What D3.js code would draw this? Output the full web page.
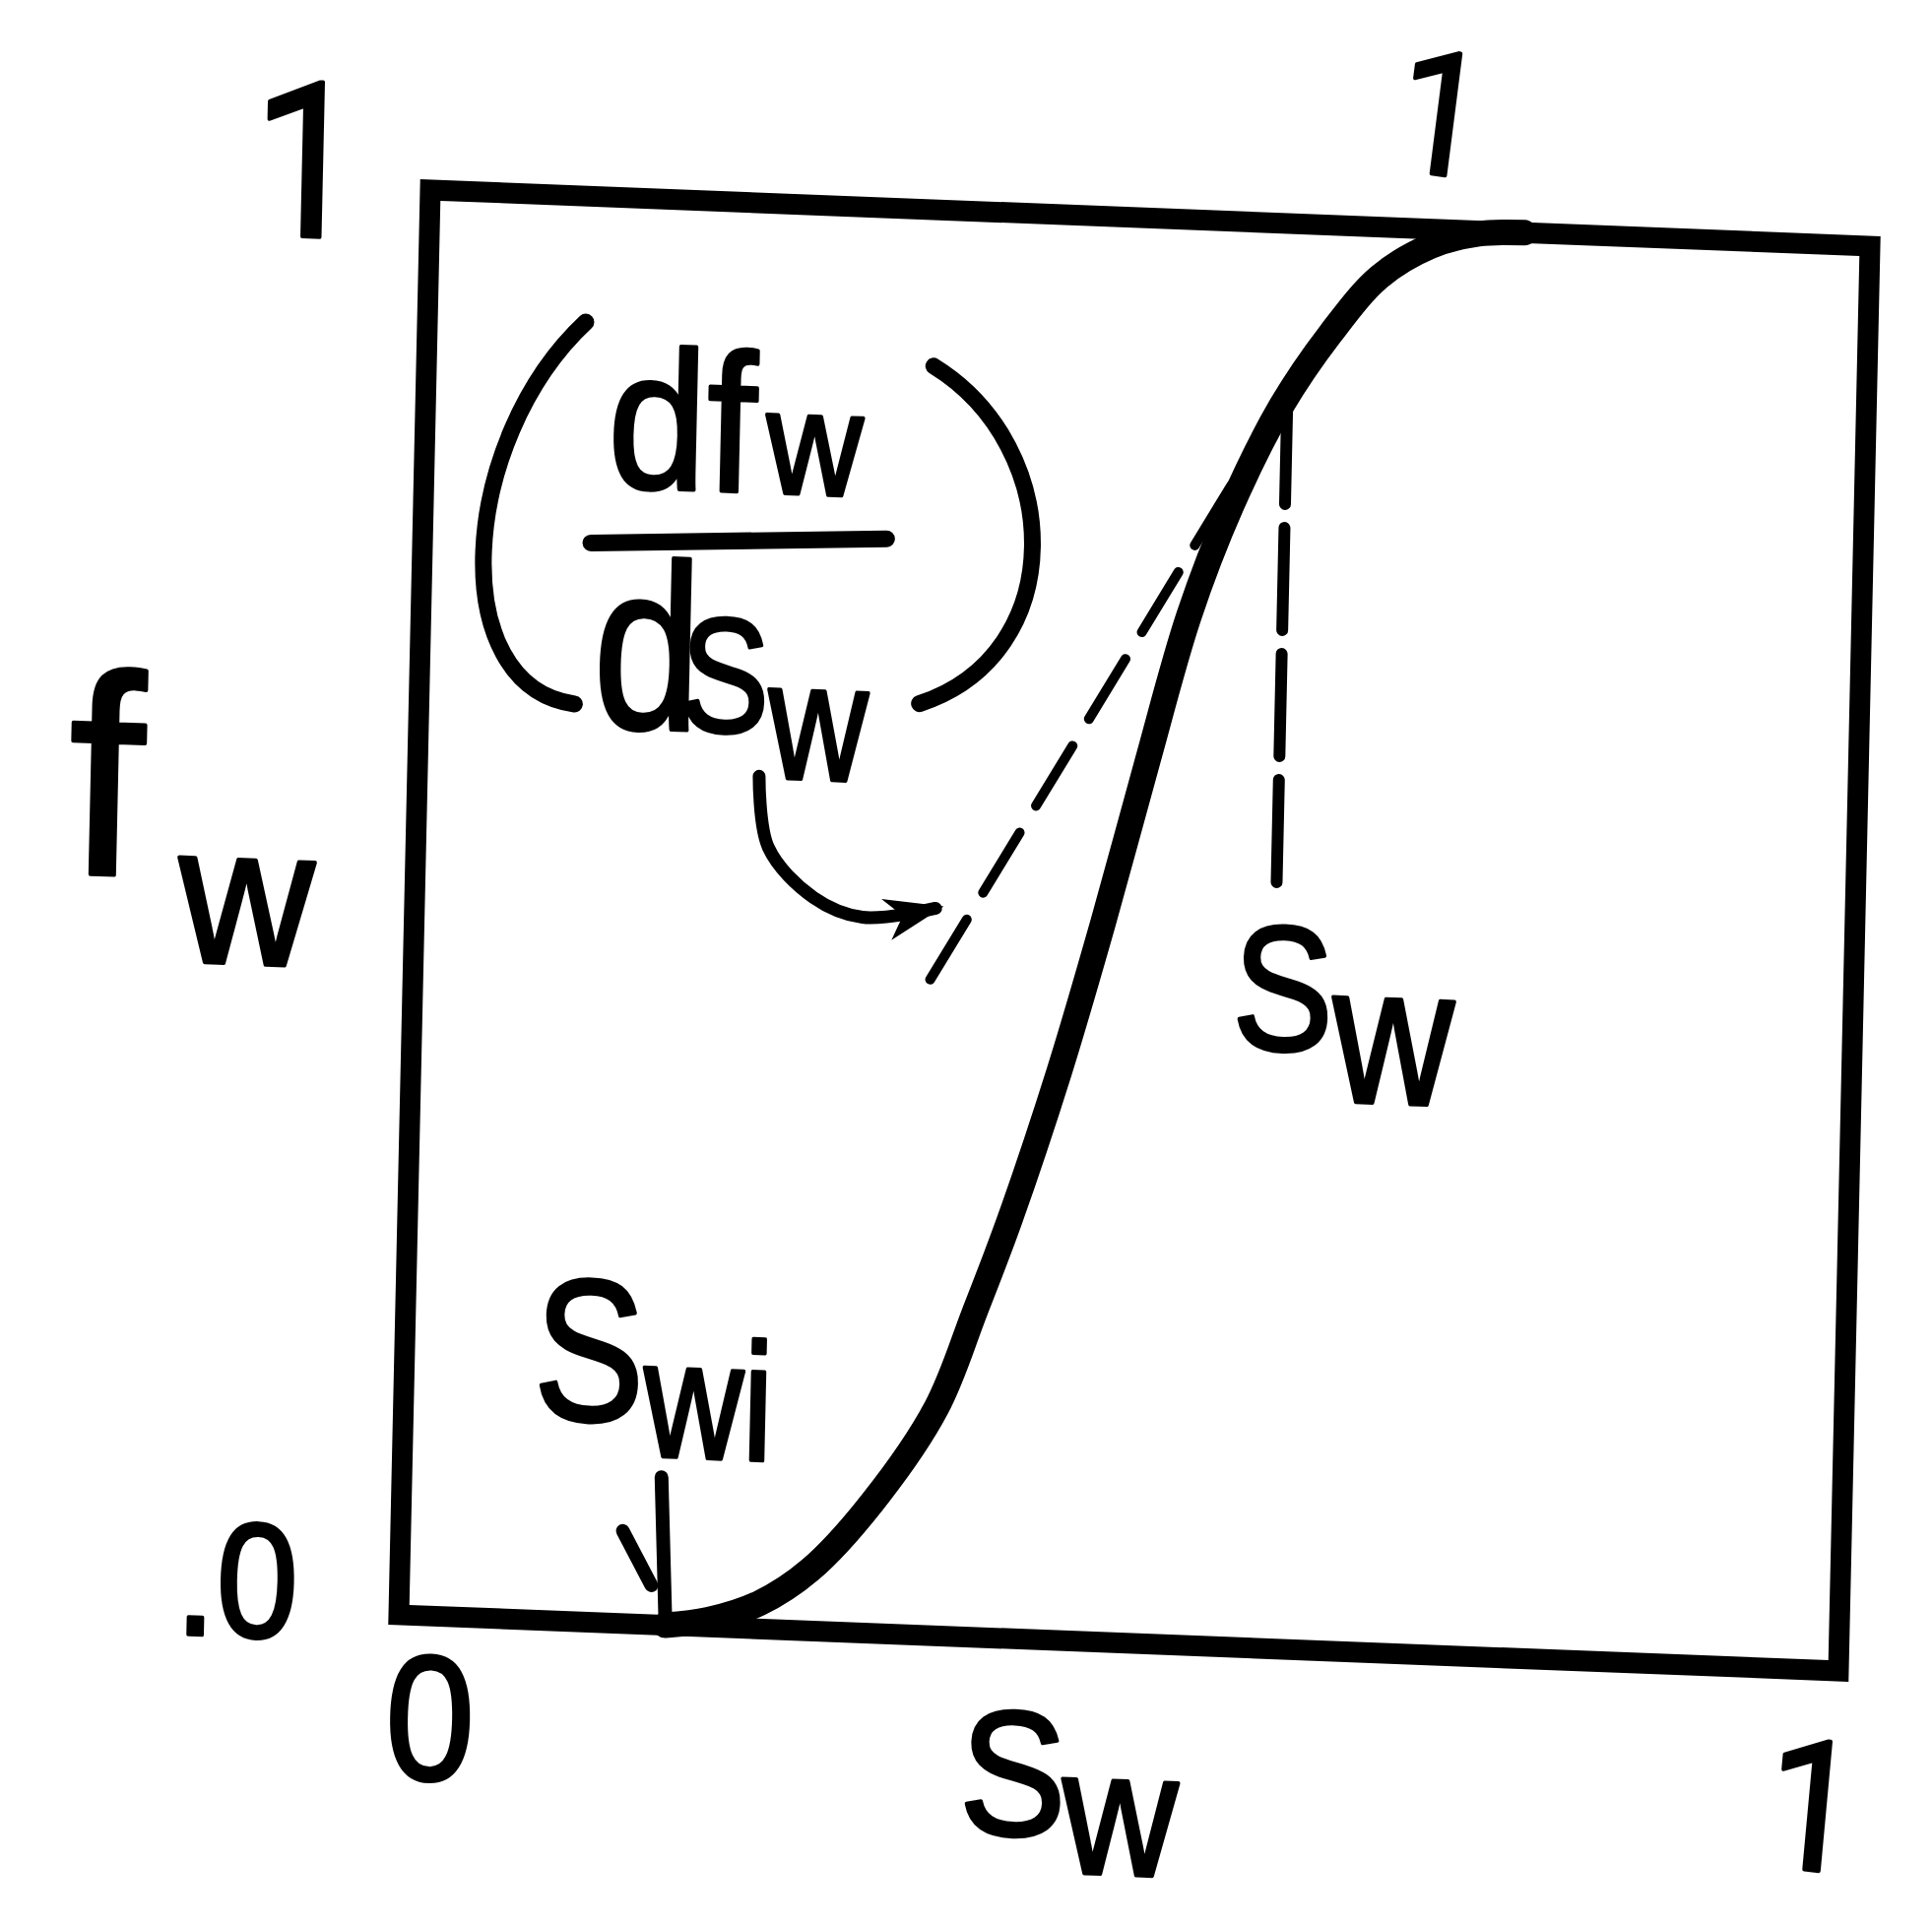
<!DOCTYPE html>
<html>
<head>
<meta charset="utf-8">
<title>Fractional flow curve</title>
<script src="https://cdn.jsdelivr.net/npm/d3@7/dist/d3.min.js"></script>
<style>
  html, body { margin: 0; padding: 0; background: #ffffff; }
  svg { display: block; }
  .hand { font-family: "Liberation Sans", Arial, sans-serif; fill: #000; stroke: #000; stroke-width: 4; stroke-linejoin: round; }
  .digit { font-family: Roboto, "Liberation Sans", sans-serif; }
</style>
</head>
<body>
<svg id="chart" width="1962" height="1956"></svg>
<script>
// Water saturation S_w and fractional flow f_w along the sketched curve
const swValues = [0.185, 0.215, 0.25, 0.285, 0.327, 0.37, 0.395, 0.418, 0.45, 0.478, 0.506, 0.533, 0.561, 0.594, 0.627, 0.66, 0.695, 0.728, 0.76];
const fwValues = [0, 0.005, 0.018, 0.043, 0.092, 0.16, 0.228, 0.294, 0.399, 0.504, 0.617, 0.722, 0.801, 0.872, 0.924, 0.965, 0.988, 0.998, 1.0];

// Initial water saturation, where the curve leaves f_w = 0
const swInitial = 0.185;

// Dashed tangent line (slope df_w/dS_w)
const tangentSw = [0.359, 0.598];
const tangentFw = [0.46, 0.881];

// Dashed drop line from the tangent point
const frontSw = 0.598;
const frontFw = [0.875, 0.535];

// Axis ticks
const xTickValues = [0, 1];
const xTickLabels = ["0", "1"];
const yTickValues = [0, 1];
const yTickLabels = [".0", "1"];

// "1" written above the frame where the curve reaches the top
const topMarkSw = 0.696;
const topMarkLabel = "1";

const W = 1462, H = 1447;
const x = d3.scaleLinear().domain([0, 1]).range([0, W]);
const y = d3.scaleLinear().domain([0, 1]).range([H, 0]);
const ink = "#000";

const svg = d3.select("#chart");
svg.append("rect").attr("width", 1962).attr("height", 1956).attr("fill", "#fff");

const defs = svg.append("defs");
defs.append("marker")
  .attr("id", "head")
  .attr("viewBox", "0 0 14 10")
  .attr("refX", 12).attr("refY", 5)
  .attr("markerWidth", 60).attr("markerHeight", 43)
  .attr("markerUnits", "userSpaceOnUse")
  .attr("orient", "auto")
  .append("path")
  .attr("d", "M0,0 L14,5 L0,10 L4,5 Z")
  .attr("fill", ink);

// Freehand frame: the bottom edge drops to the right and the sides lean right
const g = svg.append("g")
  .attr("transform", `matrix(1,${57 / W},${-32 / H},1,437,193)`);

// frame
g.append("path")
  .attr("d", d3.line()([[x(0), y(0)], [x(1), y(0)], [x(1), y(1)], [x(0), y(1)]]) + "Z")
  .attr("fill", "none")
  .attr("stroke", ink)
  .attr("stroke-width", 21)
  .attr("stroke-linejoin", "miter");

// fractional flow curve
const curvePts = swValues.map((s, i) => [s, fwValues[i]]);
g.append("path")
  .datum(curvePts)
  .attr("d", d3.line().x(d => x(d[0])).y(d => y(d[1])).curve(d3.curveCatmullRom.alpha(0.5)))
  .attr("fill", "none")
  .attr("stroke", ink)
  .attr("stroke-width", 26)
  .attr("stroke-linecap", "round")
  .attr("stroke-linejoin", "round");

// tangent line
g.append("line")
  .attr("x1", x(tangentSw[0])).attr("y1", y(tangentFw[0]))
  .attr("x2", x(tangentSw[1])).attr("y2", y(tangentFw[1]))
  .attr("stroke", ink)
  .attr("stroke-width", 10)
  .attr("stroke-dasharray", "72 32")
  .attr("stroke-linecap", "round");

// drop line at the tangent point
g.append("line")
  .attr("x1", x(frontSw)).attr("y1", y(frontFw[0]))
  .attr("x2", x(frontSw)).attr("y2", y(frontFw[1]))
  .attr("stroke", ink)
  .attr("stroke-width", 12)
  .attr("stroke-dasharray", "104 24")
  .attr("stroke-linecap", "round");

// text helper: parts are tspans, placed at (px, py) in frame coordinates
function addLabel(px, py, parts, opt = {}) {
  const t = g.append("text")
    .attr("class", opt.cls ? "hand " + opt.cls : "hand")
    .attr("font-size", parts[0].size)
    .attr("transform", `translate(${px},${py}) rotate(${opt.rotate || 0}) scale(${opt.sx || 1},1)`)
    .attr("text-anchor", opt.anchor || "start");
  parts.forEach(p => {
    t.append("tspan")
      .attr("font-size", p.size)
      .attr("dx", p.dx || 0)
      .attr("dy", p.dy || 0)
      .text(p.text);
  });
  return t;
}

// tick labels
const xTickLayout = [
  { dx: 34, dy: 166, size: 180, rotate: 0, anchor: "middle", cls: "" },
  { dx: -28, dy: 203, size: 185, rotate: 4, anchor: "middle", cls: "digit" }
];
xTickValues.forEach((v, i) => {
  const L = xTickLayout[i];
  addLabel(x(v) + L.dx, y(0) + L.dy, [{ text: xTickLabels[i], size: L.size }],
    { anchor: L.anchor, rotate: L.rotate, sx: 0.9, cls: L.cls });
});

const yTickLayout = [
  { dx: -103, dy: 28, size: 165, rotate: 0, anchor: "end", cls: "" },
  { dx: -126, dy: 52, size: 220, rotate: 0, anchor: "middle", cls: "digit" }
];
yTickValues.forEach((v, i) => {
  const L = yTickLayout[i];
  addLabel(x(0) + L.dx, y(v) + L.dy, [{ text: yTickLabels[i], size: L.size }],
    { anchor: L.anchor, rotate: L.rotate, sx: 0.9, cls: L.cls });
});

addLabel(x(topMarkSw), y(1) - 56, [{ text: topMarkLabel, size: 175 }],
  { anchor: "middle", rotate: 6, sx: 0.9, cls: "digit" });

// axis titles
addLabel(x(0.5) - 158, y(0) + 199,
  [{ text: "S", size: 180 }, { text: "w", size: 180, dx: -4, dy: 36 }], { sx: 0.9 });
addLabel(x(0) - 354, y(0.5) - 16,
  [{ text: "f", size: 290 }, { text: "w", size: 200, dx: 40, dy: 85 }], { sx: 0.95 });

// S_wi with its arrow down to the curve's start
addLabel(x(swInitial) - 139, y(0) - 205,
  [{ text: "S", size: 205 }, { text: "wi", size: 170, dy: 34 }], { sx: 0.82 });
const arrowStroke = sel => sel.attr("fill", "none").attr("stroke", ink)
  .attr("stroke-width", 14).attr("stroke-linecap", "round");
g.append("line")
  .attr("x1", x(swInitial) - 7).attr("y1", y(0) - 150)
  .attr("x2", x(swInitial)).attr("y2", y(0) - 6)
  .call(arrowStroke);
g.append("line")
  .attr("x1", x(swInitial) - 45).attr("y1", y(0) - 94)
  .attr("x2", x(swInitial) - 15).attr("y2", y(0) - 40)
  .call(arrowStroke);

// S_w under the drop line
addLabel(x(frontSw) - 42, y(frontFw[1]) + 166,
  [{ text: "S", size: 180 }, { text: "w", size: 200, dy: 50 }], { sx: 0.85 });

// slope note: (df_w / dS_w) in parentheses, with an arrow to the tangent
const nx = x(0.229), ny = y(0.77);
addLabel(nx - 149, ny - 39,
  [{ text: "df", size: 200 }, { text: "w", size: 150, dx: 12 }], { sx: 0.9 });
g.append("line")
  .attr("x1", nx - 164).attr("y1", ny + 19)
  .attr("x2", nx + 136).attr("y2", ny + 3)
  .attr("stroke", ink).attr("stroke-width", 17).attr("stroke-linecap", "round");
addLabel(nx - 159, ny + 205,
  [{ text: "d", size: 240 }, { text: "S", size: 165, dx: -25 }, { text: "w", size: 170, dy: 45 }], { sx: 0.82 });

const paren = d3.path();
paren.moveTo(nx - 174, ny - 205);
paren.bezierCurveTo(nx - 300, ny - 80, nx - 310, ny + 170, nx - 177, ny + 183);
paren.moveTo(nx + 180, ny - 174);
paren.bezierCurveTo(nx + 315, ny - 97, nx + 325, ny + 113, nx + 173, ny + 169);
g.append("path")
  .attr("d", paren.toString())
  .attr("fill", "none").attr("stroke", ink)
  .attr("stroke-width", 17).attr("stroke-linecap", "round");

const notePts = [[12, 249], [23, 321], [70, 370], [120, 388], [194, 376]];
g.append("path")
  .datum(notePts)
  .attr("d", d3.line().x(d => nx + d[0]).y(d => ny + d[1]).curve(d3.curveCatmullRom))
  .attr("fill", "none").attr("stroke", ink)
  .attr("stroke-width", 13).attr("stroke-linecap", "round")
  .attr("marker-end", "url(#head)");
</script>
</body>
</html>
